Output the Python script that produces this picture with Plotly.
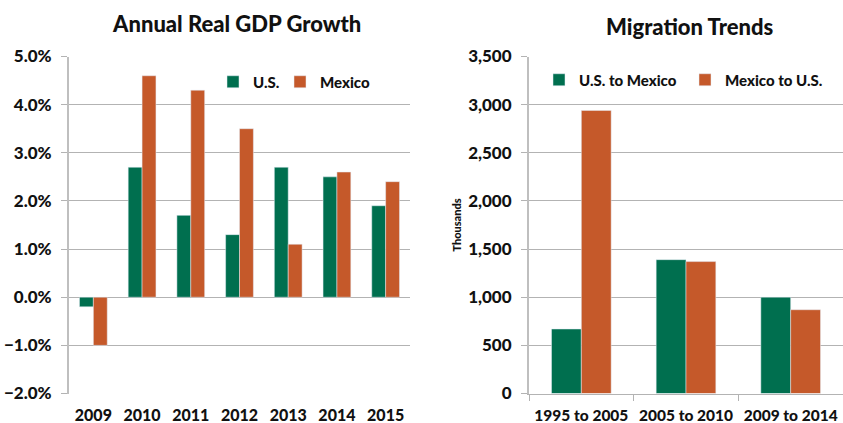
import plotly.graph_objects as go

# ---- data ----
gdp_years = ["2009", "2010", "2011", "2012", "2013", "2014", "2015"]
gdp_us = [-0.2, 2.7, 1.7, 1.3, 2.7, 2.5, 1.9]
gdp_mexico = [-1.0, 4.6, 4.3, 3.5, 1.1, 2.6, 2.4]

mig_periods = ["1995 to 2005", "2005 to 2010", "2009 to 2014"]
mig_us_to_mex = [670, 1390, 1000]
mig_mex_to_us = [2940, 1370, 870]

GREEN = "#006F4F"
ORANGE = "#C5592A"
GRID = "#B3B3B3"
AXIS = "#BFBFBF"
FONT = "Lato"
WT = 900

W, H = 843, 423

def px_x(p):
    return p / W

def px_y(p):
    return 1 - p / H

fig = go.Figure()

fig.add_trace(go.Bar(x=gdp_years, y=gdp_us, name="U.S.", marker_color=GREEN,
                     xaxis="x", yaxis="y", legend="legend", showlegend=True))
fig.add_trace(go.Bar(x=gdp_years, y=gdp_mexico, name="Mexico", marker_color=ORANGE,
                     xaxis="x", yaxis="y", legend="legend2", showlegend=True))
fig.add_trace(go.Bar(x=mig_periods, y=mig_us_to_mex, name="U.S. to Mexico", marker_color=GREEN,
                     xaxis="x2", yaxis="y2", legend="legend3", showlegend=True))
fig.add_trace(go.Bar(x=mig_periods, y=mig_mex_to_us, name="Mexico to U.S.", marker_color=ORANGE,
                     xaxis="x2", yaxis="y2", legend="legend4", showlegend=True))

ytickfont = dict(family=FONT, size=17, color="#111111", weight=WT)
xtickfont = dict(family=FONT, size=16, color="#111111", weight=WT)
x2tickfont = dict(family=FONT, size=15.5, color="#111111", weight=WT)
legfont = dict(family=FONT, size=15, color="#111111", weight=WT)
ydom = [px_y(393.5), px_y(56.5)]

def leg(xp, yp):
    return dict(orientation="h", x=px_x(xp), y=px_y(yp), xanchor="left", yanchor="middle",
                bgcolor="rgba(0,0,0,0)", itemwidth=30, font=legfont, visible=True)

fig.update_layout(
    width=W, height=H,
    showlegend=True,
    margin=dict(l=0, r=0, t=0, b=0, autoexpand=False),
    paper_bgcolor="white", plot_bgcolor="white",
    font=dict(family=FONT, color="#111111"),
    barmode="group", bargap=0.43, bargroupgap=0,
    xaxis=dict(domain=[px_x(69), px_x(410)], anchor="y", type="category",
               showline=False, showgrid=False, ticks="", tickfont=xtickfont,
               ticklabelstandoff=10, automargin=False, tickangle=0),
    yaxis=dict(domain=ydom, anchor="x", range=[-2, 5], dtick=1,
               tickformat=".1f", ticksuffix="%", showgrid=True, gridcolor=GRID,
               gridwidth=1, zeroline=True, zerolinecolor=GRID, zerolinewidth=1,
               showline=True, linecolor=AXIS, linewidth=2, ticks="outside",
               ticklen=6, tickcolor=GRID, tickfont=ytickfont, ticklabelstandoff=6,
               automargin=False),
    xaxis2=dict(domain=[px_x(529), 1.0], anchor="y2", type="category",
                showline=True, linecolor=GRID, linewidth=1, showgrid=False,
                ticks="outside", tickson="boundaries", ticklen=6, tickcolor=GRID,
                tickfont=x2tickfont, ticklabelstandoff=8, automargin=False, tickangle=0),
    yaxis2=dict(domain=ydom, anchor="x2", range=[0, 3500], dtick=500,
                tickformat=",d", showgrid=True, gridcolor=GRID, gridwidth=1,
                zeroline=False, showline=True, linecolor=AXIS, linewidth=2,
                ticks="outside", ticklen=6, tickcolor=GRID, tickfont=ytickfont,
                ticklabelstandoff=6, automargin=False,
                title=dict(text="Thousands", standoff=4,
                           font=dict(family=FONT, size=11, color="#111111", weight=WT))),
    legend=leg(213, 82),
    legend2=leg(280, 82),
    legend3=leg(539, 80),
    legend4=leg(685, 80),
    annotations=[
        dict(text="Annual Real GDP Growth", x=px_x(236), y=px_y(24), xref="paper", yref="paper",
             showarrow=False, xanchor="center", yanchor="middle",
             font=dict(family=FONT, size=22, color="#111111", weight=WT)),
        dict(text="Migration Trends", x=px_x(690), y=px_y(27), xref="paper", yref="paper",
             showarrow=False, xanchor="center", yanchor="middle",
             font=dict(family=FONT, size=22, color="#111111", weight=WT)),
    ],
)

fig.write_html(
    "out.html",
    config={"displayModeBar": False},
    post_script="document.body.style.margin='0';document.body.style.overflow='hidden';",
)
